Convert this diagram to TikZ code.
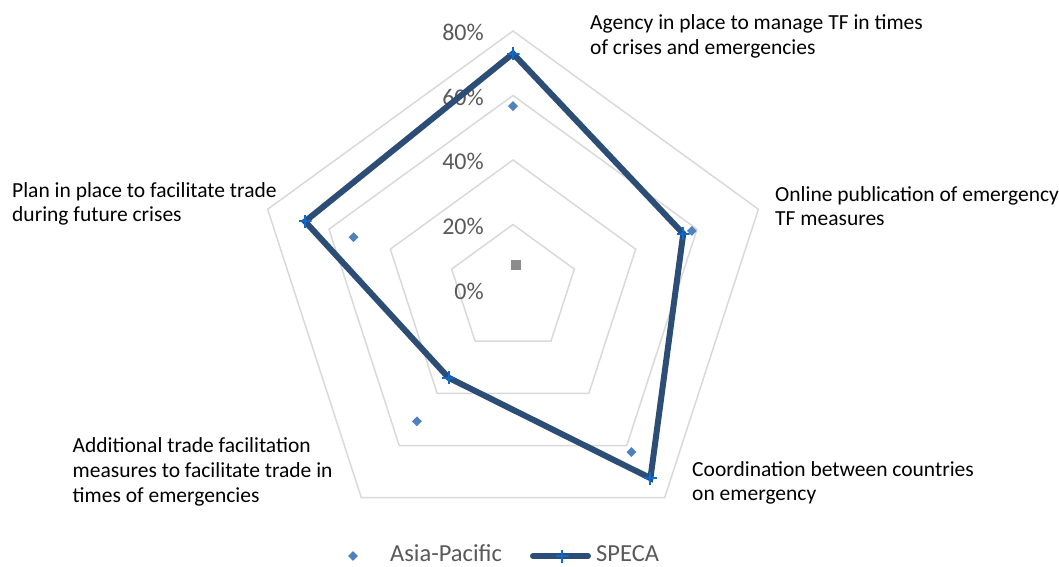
\documentclass[tikz,border=0pt]{standalone}
\usepackage{fontspec}
\setmainfont{Carlito}
\usetikzlibrary{shapes.geometric}
\definecolor{ringgray}{HTML}{D9D9D9}
\definecolor{specanavy}{HTML}{2C4D75}
\definecolor{plusblue}{HTML}{0A6AD0}
\definecolor{apblue}{HTML}{4F81BD}
\definecolor{axisgray}{HTML}{595959}
\definecolor{centergray}{HTML}{8C8C8C}
\begin{document}
\begin{tikzpicture}[x=1pt,y=1pt,
  ring/.style={draw=ringgray,line width=1.5pt},
  specaline/.style={draw=specanavy,line width=6pt,line join=miter},
  plusmark/.style={inner sep=0pt,minimum size=13pt,path picture={\draw[plusblue,line width=2pt] (path picture bounding box.north)--(path picture bounding box.south) (path picture bounding box.west)--(path picture bounding box.east);}},
  apmark/.style={diamond,fill=apblue,inner sep=0pt,minimum size=10pt},
  centermark/.style={fill=centergray,inner sep=0pt,minimum size=10pt},
  axislabel/.style={anchor=base east,text=axisgray,font=\fontsize{24}{28}\selectfont,inner sep=0pt},
  catlabel/.style={anchor=north west,align=left,inner sep=0pt,font=\fontsize{21.5}{24.7}\selectfont},
  legendtext/.style={anchor=base west,text=axisgray,font=\fontsize{24.5}{28}\selectfont,inner sep=0pt}]
\useasboundingbox (0,0) rectangle (1059,566);
\def\s{3.225}
\begin{scope}[shift={(513,277)}]
  \foreach \k in {20,40,60,80}
    \draw[ring] (90:{\k*\s}) -- (18:{\k*\s}) -- (-54:{\k*\s}) -- (-126:{\k*\s}) -- (162:{\k*\s}) -- cycle;
  \node[axislabel] (l0) at (-29,-10) {0\%};
  \node[axislabel] (l20) at (-29,54.5) {20\%};
  \node[axislabel] (l40) at (-29,119) {40\%};
  \node[axislabel] (l60) at (-29,183.5) {60\%};
  \node[axislabel] (l80) at (-29,248) {80\%};
  % SPECA data
  \coordinate (S1) at (90:{73*\s});
  \coordinate (S2) at (18:{55.5*\s});
  \coordinate (S3) at (-54:{72.5*\s});
  \coordinate (S4) at (-126:{34*\s});
  \coordinate (S5) at (162:{67.8*\s});
  % Asia-Pacific data
  \coordinate (A1) at (90:{56.7*\s});
  \coordinate (A2) at (18:{58.3*\s});
  \coordinate (A3) at (-54:{62.5*\s});
  \coordinate (A4) at (-126:{50.7*\s});
  \coordinate (A5) at (162:{52*\s});
  \node[centermark] (cm) at (3,24) {};
  \draw[specaline] (S1) -- (S2) -- (S3) -- (S4) -- (S5) -- cycle;
  \foreach \i in {1,...,5} {
    \node[apmark] (ap\i) at (A\i) {};
  }
  \foreach \i in {1,...,5} {
    \node[plusmark] (sp\i) at (S\i) {};
  }
\end{scope}
% category labels
\node[catlabel] (c1) at (590,551.5) {Agency in place to manage TF in times\\of crises and emergencies};
\node[catlabel] (c2) at (775,380) {Online publication of emergency\\TF measures};
\node[catlabel] (c3) at (692,105) {Coordination between countries\\on emergency};
\node[catlabel] (c4) at (72.5,128.5) {Additional trade facilitation\\measures to facilitate trade in\\times of emergencies};
\node[catlabel] (c5) at (12,384) {Plan in place to facilitate trade\\during future crises};
% legend
\node[apmark] (lgap) at (353,10) {};
\node[legendtext] (lgapt) at (390,4.5) {Asia-Pacific};
\coordinate (lg1) at (533,10);
\coordinate (lg2) at (588,10);
\draw[draw=specanavy,line width=6pt,line cap=round] (lg1) -- (lg2);
\node[plusmark] (lgsp) at (562,10) {};
\node[legendtext] (lgspt) at (596,4.5) {SPECA};
\end{tikzpicture}
\end{document}
